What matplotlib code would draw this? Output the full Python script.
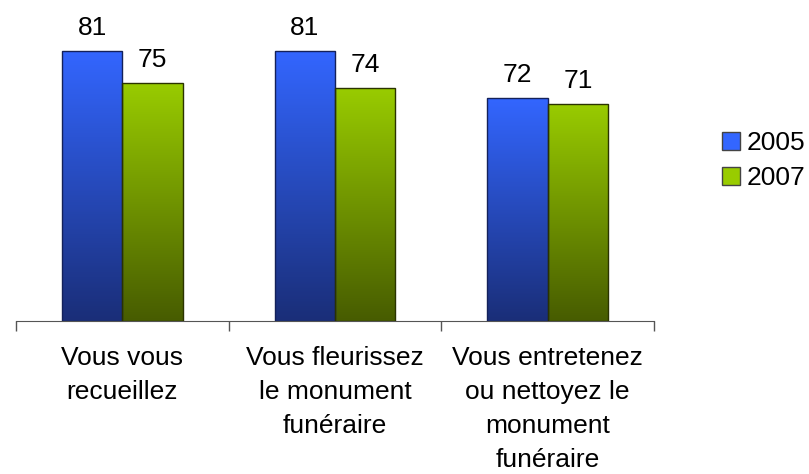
import numpy as np
import matplotlib
matplotlib.use("Agg")
import matplotlib.pyplot as plt
from matplotlib.colors import LinearSegmentedColormap
from matplotlib.patches import Rectangle

plt.rcParams['font.family'] = ['Liberation Sans', 'DejaVu Sans']

# Data
categories = ["Vous vous\nrecueillez",
              "Vous fleurissez\nle monument\nfunéraire",
              "Vous entretenez\nou nettoyez le\nmonument\nfunéraire"]
years = ["2005", "2007"]
values_2005 = [81, 81, 72]
values_2007 = [75, 74, 71]

# gradient colours (top, bottom) and edge colours
grad_colors = [("#3366ff", "#1a2e78"), ("#99cc00", "#475c00")]
edge_colors = ["#14215a", "#2a3300"]

fig = plt.figure(figsize=(8.09, 4.74), dpi=100)
ax = fig.add_axes([16 / 809, 153 / 474, 638 / 809, 318 / 474])

ymin, ymax = 30, 90
width = 0.284
x = np.arange(len(categories))

for k, vals in enumerate([values_2005, values_2007]):
    offs = (k - 0.5) * width
    bars = ax.bar(x + offs, [v - ymin for v in vals], width=width, bottom=ymin,
                  color="none", edgecolor=edge_colors[k], linewidth=1.0, zorder=3)
    cmap = LinearSegmentedColormap.from_list("g%d" % k, [grad_colors[k][1], grad_colors[k][0]])
    grad = np.linspace(0, 1, 256).reshape(-1, 1)
    for b, v in zip(bars, vals):
        x0 = b.get_x()
        im = ax.imshow(grad, cmap=cmap, aspect="auto", origin="lower",
                       extent=[x0, x0 + width, ymin, v], zorder=2)
        clip = Rectangle((x0, ymin), width, v - ymin, transform=ax.transData)
        im.set_clip_path(clip)
        ax.annotate(str(v), (b.get_x() + width / 2, v), xytext=(0, 11.5),
                    textcoords="offset points", ha="center", va="baseline",
                    fontsize=19, color="black")

ax.set_xlim(-0.5, 2.5)
ax.set_ylim(ymin, ymax)

# category labels and boundary ticks
ax.set_xticks(x)
ax.set_xticklabels(categories, fontsize=19, linespacing=1.52)
ax.tick_params(axis="x", which="major", length=0, pad=18)
ax.set_xticks([-0.5, 0.5, 1.5, 2.5], minor=True)
ax.tick_params(axis="x", which="minor", length=7, width=1, color="#555555", direction="out")
ax.set_yticks([])

for s in ["top", "right", "left"]:
    ax.spines[s].set_visible(False)
ax.spines["bottom"].set_color("#555555")

# legend
handles = [Rectangle((0, 0), 1, 1, facecolor=grad_colors[i][0], edgecolor="#444444")
           for i in range(2)]
fig.legend(handles, years, loc="center left", bbox_to_anchor=(0.8925, 0.661),
           frameon=False, fontsize=19, handlelength=0.68, handleheight=0.68,
           handletextpad=0.25, labelspacing=0.4, borderpad=0, borderaxespad=0)

fig.savefig("out.png", dpi=100)
